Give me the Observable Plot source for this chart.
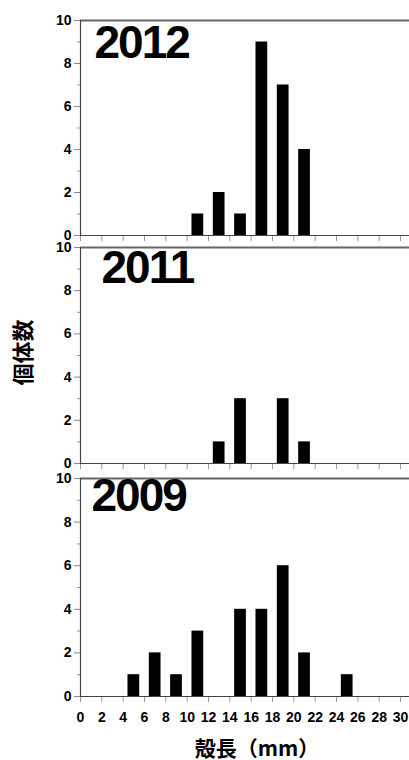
<!DOCTYPE html>
<html>
<head>
<meta charset="utf-8">
<script src="https://cdn.jsdelivr.net/npm/d3@7"></script>
<script src="https://cdn.jsdelivr.net/npm/@observablehq/plot@0.6"></script>
<style>
  html, body { margin: 0; padding: 0; background: white; }
  #chart { position: relative; width: 409px; height: 760px; overflow: hidden; }
  #chart > svg { position: absolute; left: 0; }
  #chart [aria-label="y-axis tick label"] text,
  #chart [aria-label="x-axis tick label"] text {
    font-size: 14px; font-weight: bold; font-family: 'Liberation Sans', Arial, sans-serif; fill: black;
  }
</style>
</head>
<body>
<div id="chart"></div>
<script>
// ---- data ----
const years = ["2012", "2011", "2009"];
const sizes2012 = [11, 13, 15, 17, 19, 21];
const counts2012 = [1, 2, 1, 9, 7, 4];
const sizes2011 = [13, 15, 19, 21];
const counts2011 = [1, 3, 3, 1];
const sizes2009 = [5, 7, 9, 11, 15, 17, 19, 21, 25];
const counts2009 = [1, 2, 1, 3, 4, 4, 6, 2, 1];
const xTicks = [0, 2, 4, 6, 8, 10, 12, 14, 16, 18, 20, 22, 24, 26, 28, 30];
const yTicks = [0, 2, 4, 6, 8, 10];
const yMinorTicks = [1, 3, 5, 7, 9];
const xLabel = "殻長（mm）";
const yLabel = "個体数";

const series = {
  "2012": sizes2012.map((s, i) => ({size: s, count: counts2012[i]})),
  "2011": sizes2011.map((s, i) => ({size: s, count: counts2011[i]})),
  "2009": sizes2009.map((s, i) => ({size: s, count: counts2009[i]}))
};

const latin = "'Liberation Sans', Arial, sans-serif";
const cjk = "'Noto Sans CJK JP', sans-serif";

const layout = {
  "2012": {top: 0, height: 243, mt: 20, mb: 8, ydx: 14, ydy: 5},
  "2011": {top: 243, height: 228, mt: 4, mb: 8, ydx: 21, ydy: 3},
  "2009": {top: 471, height: 289, mt: 7, mb: 64, ydx: 11, ydy: 0}
};

const chart = document.getElementById("chart");

for (const year of years) {
  const L = layout[year];
  const last = year === "2009";
  const marks = [
    Plot.rectY(series[year], {x1: d => d.size - 0.55, x2: d => d.size + 0.55, y: "count", fill: "black"}),
    Plot.axisY({ticks: yTicks, tickSize: 6, tickPadding: 3, stroke: "#888", fill: "black", fontSize: 14, fontWeight: "bold", fontFamily: latin, label: null}),
    Plot.axisY({ticks: yMinorTicks, tickSize: 3, stroke: "#999", tickFormat: () => "", label: null}),
    Plot.axisX({ticks: xTicks, tickSize: 6, tickPadding: 10, stroke: "#999", fill: "black", fontSize: 14, fontWeight: "bold", fontFamily: latin,
      tickFormat: last ? (d => String(d)) : (() => ""), label: null}),
    Plot.ruleY([10], {stroke: "#666", strokeWidth: 2}),
    Plot.ruleX([0], {stroke: "#444", strokeWidth: 1.2}),
    Plot.ruleY([0], {stroke: "#444", strokeWidth: 1.2}),
    Plot.text([year], {frameAnchor: "top-left", textAnchor: "start", lineAnchor: "top", dx: L.ydx, dy: L.ydy,
      fontSize: 46, fontWeight: "bold", fontFamily: latin, fill: "black"})
  ];
  if (year === "2011") {
    marks.push(Plot.text([yLabel], {frameAnchor: "left", textAnchor: "middle", rotate: -90, dx: -57, dy: -3, fontSize: 22, fontWeight: "bold", fontFamily: cjk, fill: "black"}));
  }
  if (last) {
    marks.push(Plot.text([xLabel], {frameAnchor: "bottom", textAnchor: "middle", dx: 12, dy: 59, lineAnchor: "bottom", fontSize: 21, fontWeight: "bold", fontFamily: cjk, fill: "black"}));
  }
  const svg = Plot.plot({
    width: 409,
    height: L.height,
    marginTop: L.mt,
    marginBottom: L.mb,
    marginLeft: 80,
    marginRight: 0,
    x: {domain: [0, 30.84], axis: null},
    y: {domain: [0, 10], axis: null},
    style: {background: "none", overflow: "visible", fontFamily: latin},
    marks
  });
  svg.style.top = L.top + "px";
  d3.select(svg).selectAll("text").filter(function() { return this.textContent === year; })
    .attr("letter-spacing", "-2px");
  chart.appendChild(svg);
}
</script>
</body>
</html>
